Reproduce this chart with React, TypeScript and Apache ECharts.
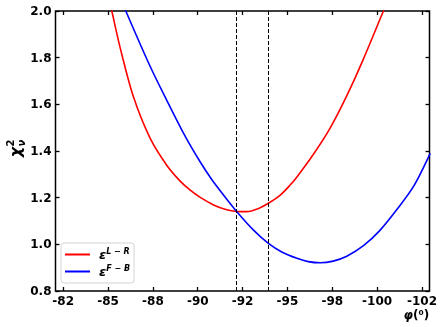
import React, { useEffect, useRef } from "react";
import * as echarts from "echarts";

const xTickValues = [-82.5, -85, -87.5, -90, -92.5, -95, -97.5, -100, -102.5];
const xTickLabels = ["-82", "-85", "-88", "-90", "-92", "-95", "-98", "-100", "-102"];

const redPhi = [-85.06, -85.21, -85.68, -86.42, -87.35, -88.28, -89.02, -89.58, -90.14, -90.88, -91.62, -92.18, -92.74, -93.39, -93.94, -94.6, -95.15, -95.53, -96.45, -97.38, -98.31, -99.24, -100.35, -100.62];
const redChi = [2.052, 2.0, 1.841, 1.631, 1.454, 1.338, 1.271, 1.232, 1.201, 1.169, 1.148, 1.141, 1.14, 1.154, 1.176, 1.211, 1.254, 1.289, 1.386, 1.498, 1.637, 1.795, 2.0, 2.05];

const bluePhi = [-85.8, -85.99, -87.35, -88.28, -89.21, -90.14, -90.79, -91.44, -92.18, -93.11, -93.94, -94.71, -95.53, -96.16, -96.83, -97.55, -98.31, -99.24, -100.17, -101.1, -102.03, -102.96];
const blueChi = [2.04, 2.0, 1.762, 1.616, 1.476, 1.353, 1.277, 1.211, 1.14, 1.061, 1.004, 0.966, 0.94, 0.926, 0.921, 0.928, 0.949, 0.994, 1.061, 1.149, 1.248, 1.39];

const dashedPhi = [-92.13, -93.94];

const seriesNames = ["L-R", "F-B"];
const legendSup = ["L − R", "F − B"];

export default function App() {
  const ref = useRef<HTMLDivElement>(null);
  useEffect(() => {
    if (!ref.current) return;
    const chart = echarts.init(ref.current, null, { renderer: "svg" });
    const font = "DejaVu Sans";
    const fmtX = (v: number) => {
      const i = xTickValues.findIndex((t) => Math.abs(t - v) < 1e-6);
      return i >= 0 ? xTickLabels[i] : "";
    };
    const xCommon = {
      type: "value",
      min: -102.92,
      max: -82.07,
      inverse: true,
      splitLine: { show: false },
      axisLine: { show: false },
    };
    const yCommon = {
      type: "value",
      min: 0.8,
      max: 2.0,
      interval: 0.2,
      splitLine: { show: false },
      axisLine: { show: false },
    };
    const tick = { inside: true, length: 4, lineStyle: { color: "#000", width: 1.3 } };
    chart.setOption({
      animation: false,
      grid: {
        left: 55.5,
        right: 13.5,
        top: 11,
        bottom: 36,
        show: true,
        borderColor: "#000",
        borderWidth: 1.5,
        backgroundColor: "transparent",
      },
      xAxis: [
        {
          ...xCommon,
          position: "bottom",
          axisTick: { ...tick, customValues: xTickValues },
          axisLabel: {
            customValues: xTickValues,
            formatter: fmtX,
            margin: 4,
            fontFamily: font,
            fontWeight: "bold",
            fontSize: 12,
            color: "#000",
          },
        },
        {
          ...xCommon,
          position: "top",
          axisTick: { ...tick, customValues: xTickValues },
          axisLabel: { show: false },
        },
      ],
      yAxis: [
        {
          ...yCommon,
          position: "left",
          axisTick: tick,
          axisLabel: {
            formatter: (v: number) => v.toFixed(1),
            margin: 4,
            fontFamily: font,
            fontWeight: "bold",
            fontSize: 12,
            color: "#000",
          },
        },
        {
          ...yCommon,
          position: "right",
          axisTick: tick,
          axisLabel: { show: false },
        },
      ],
      legend: {
        orient: "vertical",
        left: 61,
        top: 243,
        padding: [4, 4, 5, 4],
        itemGap: 3,
        itemWidth: 25,
        itemHeight: 2,
        icon: "rect",
        borderColor: "#d4d4d4",
        borderWidth: 1,
        borderRadius: 3,
        backgroundColor: "#fff",
        data: seriesNames,
        formatter: (name: string) => {
          const i = seriesNames.indexOf(name);
          return "{e|ε}{s|" + legendSup[i] + "}";
        },
        textStyle: {
          rich: {
            e: {
              fontFamily: font,
              fontSize: 13,
              fontWeight: "bold",
              fontStyle: "italic",
              color: "#000",
              lineHeight: 15,
              padding: [0, 0, 0, 4],
            },
            s: {
              fontFamily: font,
              fontSize: 8,
              fontWeight: "bold",
              fontStyle: "italic",
              color: "#000",
              lineHeight: 8,
              verticalAlign: "top",
            },
          },
        },
      },
      series: [
        {
          name: seriesNames[0],
          type: "line",
          data: redPhi.map((p, i) => [p, redChi[i]]),
          showSymbol: false,
          symbol: "none",
          smooth: 0.3,
          lineStyle: { color: "#ff0000", width: 1.6 },
          itemStyle: { color: "#ff0000" },
          z: 3,
          markLine: {
            silent: true,
            symbol: "none",
            label: { show: false },
            lineStyle: { color: "#000", width: 1, type: [4, 2] },
            data: dashedPhi.map((p) => ({ xAxis: p })),
          },
        },
        {
          name: seriesNames[1],
          type: "line",
          data: bluePhi.map((p, i) => [p, blueChi[i]]),
          showSymbol: false,
          symbol: "none",
          smooth: 0.3,
          lineStyle: { color: "#0000ff", width: 1.6 },
          itemStyle: { color: "#0000ff" },
          z: 3,
        },
      ],
      graphic: [
        {
          type: "group",
          x: 15,
          y: 151,
          rotation: Math.PI / 2,
          children: [
            {
              type: "text",
              x: -1,
              y: 0,
              style: {
                text: "χ",
                font: "italic bold 16px 'DejaVu Sans'",
                fill: "#000",
                align: "center",
                verticalAlign: "middle",
              },
            },
            {
              type: "text",
              x: 8,
              y: -5,
              style: {
                text: "2",
                font: "bold 10px 'DejaVu Sans'",
                fill: "#000",
                align: "center",
                verticalAlign: "middle",
              },
            },
            {
              type: "text",
              x: 8,
              y: 6,
              style: {
                text: "ν",
                font: "italic bold 10px 'DejaVu Sans'",
                fill: "#000",
                align: "center",
                verticalAlign: "middle",
              },
            },
          ],
        },
        {
          type: "text",
          x: 413,
          y: 315,
          style: {
            text: "φ",
            font: "italic bold 12px 'DejaVu Sans'",
            fill: "#000",
            align: "right",
            verticalAlign: "middle",
          },
        },
        {
          type: "text",
          x: 413,
          y: 315,
          style: {
            text: "(⁰)",
            font: "bold 12px 'DejaVu Sans'",
            fill: "#000",
            align: "left",
            verticalAlign: "middle",
          },
        },
      ],
    });
    return () => chart.dispose();
  }, []);
  return (
    <div
      ref={ref}
      style={{ position: "fixed", left: 0, top: 0, width: 443, height: 327 }}
    />
  );
}
